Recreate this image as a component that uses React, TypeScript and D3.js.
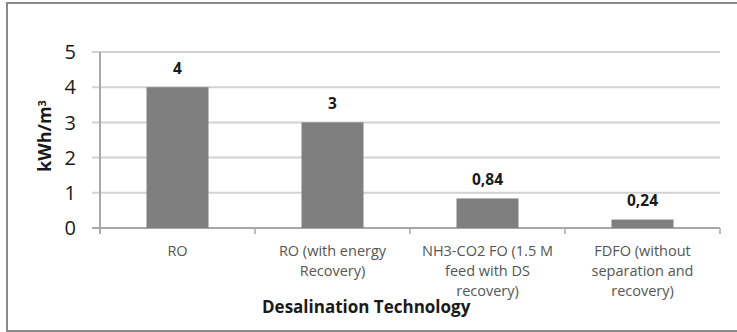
import React from "react";
import * as d3 from "d3";

const categories: string[][] = [
  ["RO"],
  ["RO (with energy", "Recovery)"],
  ["NH3-CO2 FO (1.5 M", "feed with DS", "recovery)"],
  ["FDFO (without", "separation and", "recovery)"],
];
const values: number[] = [4, 3, 0.84, 0.24];
const valueLabels: string[] = ["4", "3", "0,84", "0,24"];
const yTicks: number[] = [0, 1, 2, 3, 4, 5];

const W = 737;
const H = 332;
const FONT = "'Open Sans', Lato, 'Liberation Sans', sans-serif";

export default function App() {
  const left = 100;
  const right = 720;
  const top = 52;
  const bottom = 228;

  const x = d3
    .scaleBand<number>()
    .domain(d3.range(values.length))
    .range([left, right])
    .paddingInner(0.6)
    .paddingOuter(0.3);
  const step = x.step();
  const y = d3.scaleLinear().domain([0, 5]).range([bottom, top]);

  const boundaries = d3.range(values.length + 1).map((i) => left + i * step);

  return (
    <svg
      width={W}
      height={H}
      style={{ position: "absolute", left: 0, top: 0, background: "#fff" }}
      fontFamily={FONT}
    >
      <rect x={7} y={3} width={740} height={328} fill="#fff" stroke="#8a8a8a" strokeWidth={2} />

      {yTicks.map((t) => (
        <g key={t}>
          <line
            x1={left - 8}
            x2={right}
            y1={y(t)}
            y2={y(t)}
            stroke={t === 0 ? "#a8a8a8" : "#d2d2d2"}
            strokeWidth={2}
          />
          <text
            x={76}
            y={y(t)}
            dy="0.36em"
            textAnchor="end"
            fontSize={20}
            fill="#1a1a1a"
          >
            {t}
          </text>
        </g>
      ))}

      <line x1={left} x2={left} y1={top} y2={bottom + 6} stroke="#a8a8a8" strokeWidth={2} />
      {boundaries.slice(1).map((b, i) => (
        <line key={i} x1={b} x2={b} y1={bottom} y2={bottom + 6} stroke="#a8a8a8" strokeWidth={1.5} />
      ))}

      {values.map((v, i) => (
        <g key={i}>
          <rect
            x={x(i)!}
            y={y(v)}
            width={x.bandwidth()}
            height={y(0) - y(v)}
            fill="#7f7f7f"
          />
          <text
            x={x(i)! + x.bandwidth() / 2}
            y={y(v) - 19}
            dy="0.36em"
            textAnchor="middle"
            fontSize={15.5}
            fontWeight="bold"
            fill="#1a1a1a"
          >
            {valueLabels[i]}
          </text>
        </g>
      ))}

      {categories.map((lines, i) => (
        <text
          key={i}
          x={x(i)! + x.bandwidth() / 2}
          y={251}
          textAnchor="middle"
          fontSize={14.5}
          fill="#555"
        >
          {lines.map((ln, j) => (
            <tspan key={j} x={x(i)! + x.bandwidth() / 2} y={251 + j * 19.7} dy="0.36em">
              {ln}
            </tspan>
          ))}
        </text>
      ))}

      <text
        transform={`translate(45,136) rotate(-90)`}
        textAnchor="middle"
        dy="0.36em"
        fontSize={18}
        fontWeight="bold"
        fill="#1a1a1a"
      >
        kWh/m<tspan dy="-0.5em" fontSize={11}>3</tspan>
      </text>

      <text x={262} y={307} dy="0.36em" fontSize={17} fontWeight="bold" fill="#1a1a1a">
        Desalination Technology
      </text>
    </svg>
  );
}
